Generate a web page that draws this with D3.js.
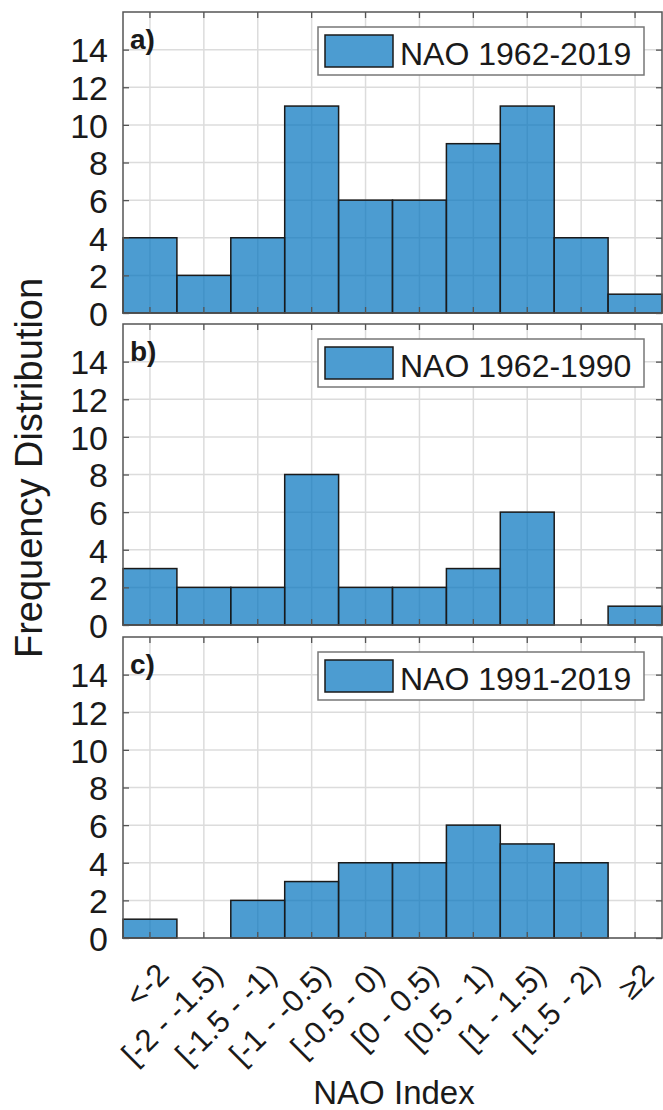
<!DOCTYPE html>
<html>
<head>
<meta charset="utf-8">
<script src="https://cdn.jsdelivr.net/npm/d3@7"></script>
<style>
  body { margin: 0; background: #fff; }
  text { font-family: "Liberation Sans", Arial, sans-serif; fill: #1a1a1a; }
</style>
</head>
<body>
<div id="chart"></div>
<script>
// bins of the NAO index, one bar per bin
var categories = ["<-2", "[-2 - -1.5)", "[-1.5 - -1)", "[-1 - -0.5)", "[-0.5 - 0)",
                  "[0 - 0.5)", "[0.5 - 1)", "[1 - 1.5)", "[1.5 - 2)", "\u22652"];

// counts per bin
var nao1962_2019 = [4, 2, 4, 11, 6, 6, 9, 11, 4, 1];
var nao1962_1990 = [3, 2, 2, 8, 2, 2, 3, 6, 0, 1];
var nao1991_2019 = [1, 0, 2, 3, 4, 4, 6, 5, 4, 0];

var seriesNames = ["NAO 1962-2019", "NAO 1962-1990", "NAO 1991-2019"];
var panelLetters = ["a)", "b)", "c)"];
var yTicks = [0, 2, 4, 6, 8, 10, 12, 14];

var panels = [nao1962_2019, nao1962_1990, nao1991_2019];

var W = 663, H = 1110;
var left = 123, right = 662,
    panelTops = [12, 324, 637],
    ph = 301;

var svg = d3.select("#chart").append("svg")
    .attr("width", W).attr("height", H);

var x = d3.scaleBand().domain(categories).range([left, right]).padding(0);
var y = d3.scaleLinear().domain([0, 16]).range([ph, 0]);

var barColor = "#0072BD";

panels.forEach(function (vals, i) {
  var g = svg.append("g").attr("transform", "translate(0," + panelTops[i] + ")");

  // grid
  g.append("g").attr("class", "grid")
      .selectAll("line.gx").data(categories).enter().append("line")
      .attr("x1", function (d) { return x(d) + x.bandwidth() / 2; })
      .attr("x2", function (d) { return x(d) + x.bandwidth() / 2; })
      .attr("y1", 0).attr("y2", ph)
      .attr("stroke", "#dcdcdc").attr("stroke-width", 1.5);
  g.append("g").attr("class", "grid")
      .selectAll("line.gy").data(yTicks).enter().append("line")
      .attr("x1", left).attr("x2", right)
      .attr("y1", function (d) { return y(d); })
      .attr("y2", function (d) { return y(d); })
      .attr("stroke", "#dcdcdc").attr("stroke-width", 1.5);

  // bars
  g.selectAll("rect.bar").data(vals).enter().append("rect")
      .attr("class", "bar")
      .attr("x", function (d, j) { return x(categories[j]); })
      .attr("width", x.bandwidth())
      .attr("y", function (d) { return y(d); })
      .attr("height", function (d) { return ph - y(d); })
      .attr("fill", barColor).attr("fill-opacity", 0.7)
      .attr("stroke", function (d) { return d > 0 ? "#1a1a1a" : "none"; })
      .attr("stroke-width", 1.5);

  // axes, ticks pointing inward on all four sides
  var yAx = g.append("g").attr("transform", "translate(" + left + ",0)")
      .call(d3.axisLeft(y).tickValues(yTicks).tickSize(-6).tickPadding(15));
  yAx.selectAll("text").style("font-size", "34px").attr("dy", "0.36em");
  g.append("g").attr("transform", "translate(" + right + ",0)")
      .call(d3.axisRight(y).tickValues(yTicks).tickSize(-6).tickFormat(""));
  g.append("g").attr("transform", "translate(0," + ph + ")")
      .call(d3.axisBottom(x).tickSize(-6).tickFormat(""));
  g.append("g")
      .call(d3.axisTop(x).tickSize(-6).tickFormat(""));
  g.selectAll(".domain").attr("stroke", "none");
  g.selectAll(".tick line").attr("stroke", "#555").attr("stroke-width", 1.3);

  // frame
  g.append("rect").attr("x", left).attr("y", 0)
      .attr("width", right - left).attr("height", ph)
      .attr("fill", "none").attr("stroke", "#555").attr("stroke-width", 1.5);

  // panel letter
  g.append("text").attr("x", 130).attr("y", 37)
      .style("font-size", "28px").style("font-weight", "bold")
      .text(panelLetters[i]);

  // legend
  var lg = g.append("g").attr("transform", "translate(318,15)");
  lg.append("rect").attr("width", 326).attr("height", 48)
      .attr("fill", "#fff").attr("stroke", "#777").attr("stroke-width", 1.5);
  lg.append("rect").attr("x", 7).attr("y", 8).attr("width", 68).attr("height", 32)
      .attr("fill", barColor).attr("fill-opacity", 0.7)
      .attr("stroke", "#1a1a1a").attr("stroke-width", 1.5);
  lg.append("text").attr("x", 82).attr("y", 38)
      .style("font-size", "32px").text(seriesNames[i]);

  // category labels only under the last panel
  if (i === panels.length - 1) {
    g.selectAll("text.cat").data(categories).enter().append("text")
        .attr("class", "cat")
        .attr("text-anchor", "end")
        .attr("dy", "0.35em")
        .attr("transform", function (d) {
          return "translate(" + (x(d) + x.bandwidth() / 2 + 13) + "," + (ph + 31) + ") rotate(-45)";
        })
        .style("font-size", "31px")
        .text(function (d) { return d; });
  }
});

// axis titles
svg.append("text")
    .attr("text-anchor", "middle")
    .attr("transform", "translate(42,468) rotate(-90)")
    .style("font-size", "38px")
    .text("Frequency Distribution");

svg.append("text")
    .attr("text-anchor", "middle")
    .attr("x", 394).attr("y", 1104)
    .style("font-size", "33px")
    .text("NAO Index");
</script>
</body>
</html>
